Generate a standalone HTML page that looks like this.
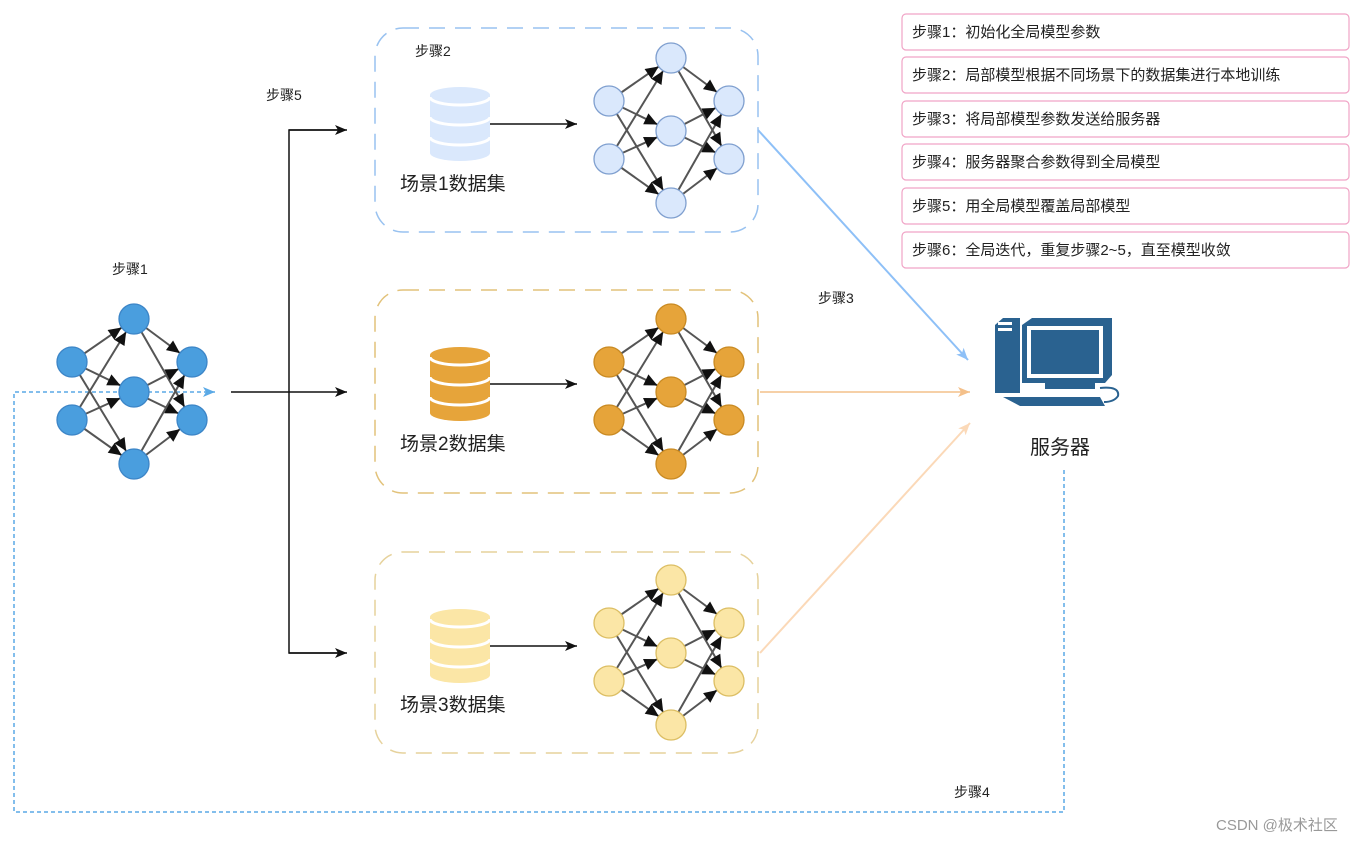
<!DOCTYPE html>
<html><head><meta charset="utf-8"><style>
body{margin:0;background:#fff;width:1368px;height:842px;overflow:hidden}
text{font-family:"Liberation Sans","Noto Sans CJK SC",sans-serif;fill:#222}
</style></head><body>
<svg width="1368" height="842" viewBox="0 0 1368 842" xmlns="http://www.w3.org/2000/svg">
<defs>
<marker id="na" markerUnits="userSpaceOnUse" markerWidth="30" markerHeight="20" refX="15" refY="0" viewBox="-15 -10 30 20" orient="auto"><path d="M0,0 L-13,-6 L-13,6 Z" fill="#111"/></marker>
<marker id="ar" markerUnits="userSpaceOnUse" markerWidth="14" markerHeight="12" refX="0" refY="0" viewBox="-13 -6 14 12" orient="auto"><path d="M0,0 L-12,-5 L-9,0 L-12,5 Z" fill="#111"/></marker>
<marker id="ab" markerUnits="userSpaceOnUse" markerWidth="14" markerHeight="12" refX="0" refY="0" viewBox="-13 -6 14 12" orient="auto"><path d="M0,0 L-12,-5 L-9,0 L-12,5 Z" fill="#8ec0f7"/></marker>
<marker id="ao" markerUnits="userSpaceOnUse" markerWidth="14" markerHeight="12" refX="0" refY="0" viewBox="-13 -6 14 12" orient="auto"><path d="M0,0 L-12,-5 L-9,0 L-12,5 Z" fill="#f4c08a"/></marker>
<marker id="ap" markerUnits="userSpaceOnUse" markerWidth="14" markerHeight="12" refX="0" refY="0" viewBox="-13 -6 14 12" orient="auto"><path d="M0,0 L-12,-5 L-9,0 L-12,5 Z" fill="#fbd9b8"/></marker>
<marker id="ad" markerUnits="userSpaceOnUse" markerWidth="14" markerHeight="12" refX="0" refY="0" viewBox="-13 -6 14 12" orient="auto"><path d="M0,0 L-12,-5 L-9,0 L-12,5 Z" fill="#5aa9e6"/></marker>
<g id="net">
 <g stroke="#555" stroke-width="2" marker-end="url(#na)">
  <line x1="0" y1="0" x2="62" y2="-43"/><line x1="0" y1="0" x2="62" y2="30"/><line x1="0" y1="0" x2="62" y2="102"/>
  <line x1="0" y1="58" x2="62" y2="-43"/><line x1="0" y1="58" x2="62" y2="30"/><line x1="0" y1="58" x2="62" y2="102"/>
  <line x1="62" y1="-43" x2="120" y2="0"/><line x1="62" y1="-43" x2="120" y2="58"/>
  <line x1="62" y1="30" x2="120" y2="0"/><line x1="62" y1="30" x2="120" y2="58"/>
  <line x1="62" y1="102" x2="120" y2="0"/><line x1="62" y1="102" x2="120" y2="58"/>
 </g>
 <g style="fill:var(--f);stroke:var(--s)" stroke-width="1.3">
  <circle cx="0" cy="0" r="15"/><circle cx="0" cy="58" r="15"/>
  <circle cx="62" cy="-43" r="15"/><circle cx="62" cy="30" r="15"/><circle cx="62" cy="102" r="15"/>
  <circle cx="120" cy="0" r="15"/><circle cx="120" cy="58" r="15"/>
 </g>
</g>
<g id="db">
 <path d="M0,8 v58 a30,8 0 0 0 60,0 v-58" style="fill:var(--f)"/>
 <ellipse cx="30" cy="8" rx="30" ry="8" style="fill:var(--f)"/>
 <path d="M0,10 a30,8 0 0 0 60,0 M0,30 a30,8 0 0 0 60,0 M0,50 a30,8 0 0 0 60,0" fill="none" stroke="#fff" stroke-width="3"/>
</g>
</defs>

<rect x="375" y="28" width="383" height="204" rx="28" fill="none" stroke="#99c2f0" stroke-width="1.5" stroke-dasharray="16 10"/>
<rect x="375" y="290" width="383" height="203" rx="28" fill="none" stroke="#e2c27a" stroke-width="1.5" stroke-dasharray="16 10"/>
<rect x="375" y="552" width="383" height="201" rx="28" fill="none" stroke="#e6d29c" stroke-width="1.5" stroke-dasharray="16 10"/>

<path d="M1064,470 V812 H14 V392 H215" fill="none" stroke="#5aa9e6" stroke-width="1.5" stroke-dasharray="4 3" marker-end="url(#ad)"/>

<use href="#net" x="72" y="362" style="--f:#4a9ede;--s:#3c85c7"/>
<use href="#net" x="609" y="101" style="--f:#dae8fc;--s:#7f9fcf"/>
<use href="#net" x="609" y="362" style="--f:#e6a43a;--s:#c98a22"/>
<use href="#net" x="609" y="623" style="--f:#fbe6a6;--s:#dcbe63"/>

<g fill="none" stroke="#111" stroke-width="1.5">
 <line x1="231" y1="392" x2="347" y2="392" marker-end="url(#ar)"/>
 <path d="M345,130 H289 V653 H345"/>
 <line x1="289" y1="130" x2="347" y2="130" marker-end="url(#ar)"/>
 <line x1="289" y1="653" x2="347" y2="653" marker-end="url(#ar)"/>
 <line x1="490" y1="124" x2="577" y2="124" marker-end="url(#ar)"/>
 <line x1="490" y1="384" x2="577" y2="384" marker-end="url(#ar)"/>
 <line x1="490" y1="646" x2="577" y2="646" marker-end="url(#ar)"/>
</g>

<use href="#db" x="430" y="87" style="--f:#dae8fc"/>
<use href="#db" x="430" y="347" style="--f:#e6a43a"/>
<use href="#db" x="430" y="609" style="--f:#fbe6a6"/>

<line x1="758" y1="130" x2="968" y2="360" stroke="#8ec0f7" stroke-width="2" marker-end="url(#ab)"/>
<line x1="760" y1="392" x2="970" y2="392" stroke="#f4c08a" stroke-width="1.5" marker-end="url(#ao)"/>
<line x1="760" y1="653" x2="970" y2="423" stroke="#fbd9b8" stroke-width="2" marker-end="url(#ap)"/>

<g fill="#2a6290">
 <path d="M995,325 L1003,318 H1020 V393 H995 Z"/>
 <rect x="998" y="322" width="14" height="3" fill="#fff"/>
 <rect x="998" y="328" width="14" height="3" fill="#fff"/>
 <path d="M1022,325 L1032,318 H1112 V375 L1105,383 H1022 Z"/>
 <rect x="1027" y="326" width="76" height="52" fill="#fff"/>
 <rect x="1031" y="330" width="68" height="44" fill="#2a6290"/>
 <rect x="1045" y="383" width="50" height="6"/>
 <path d="M1003,397 H1100 L1105,406 H1020 Z"/>
 <path d="M1100,388 q20,-2 18,8 q-4,6 -14,6" fill="none" stroke="#2a6290" stroke-width="2"/>
</g>
<text x="1030" y="454" font-size="20">服务器</text>

<text x="415" y="56" font-size="14">步骤2</text>
<text x="266" y="100" font-size="14">步骤5</text>
<text x="112" y="274" font-size="14">步骤1</text>
<text x="818" y="303" font-size="14">步骤3</text>
<text x="954" y="797" font-size="14">步骤4</text>
<text x="400" y="190" font-size="19">场景1数据集</text>
<text x="400" y="450" font-size="19">场景2数据集</text>
<text x="400" y="711" font-size="19">场景3数据集</text>

<g fill="#fff" stroke="#f0a4c6" stroke-width="1.2">
 <rect x="902" y="14" width="447" height="36" rx="4"/>
 <rect x="902" y="57" width="447" height="36" rx="4"/>
 <rect x="902" y="101" width="447" height="36" rx="4"/>
 <rect x="902" y="144" width="447" height="36" rx="4"/>
 <rect x="902" y="188" width="447" height="36" rx="4"/>
 <rect x="902" y="232" width="447" height="36" rx="4"/>
</g>
<g font-size="15">
 <text x="912" y="37">步骤1：初始化全局模型参数</text>
 <text x="912" y="80">步骤2：局部模型根据不同场景下的数据集进行本地训练</text>
 <text x="912" y="124">步骤3：将局部模型参数发送给服务器</text>
 <text x="912" y="167">步骤4：服务器聚合参数得到全局模型</text>
 <text x="912" y="211">步骤5：用全局模型覆盖局部模型</text>
 <text x="912" y="255">步骤6：全局迭代，重复步骤2~5，直至模型收敛</text>
</g>
<text x="1216" y="830" font-size="15" style="fill:#999">CSDN @极术社区</text>
</svg>
</body></html>
